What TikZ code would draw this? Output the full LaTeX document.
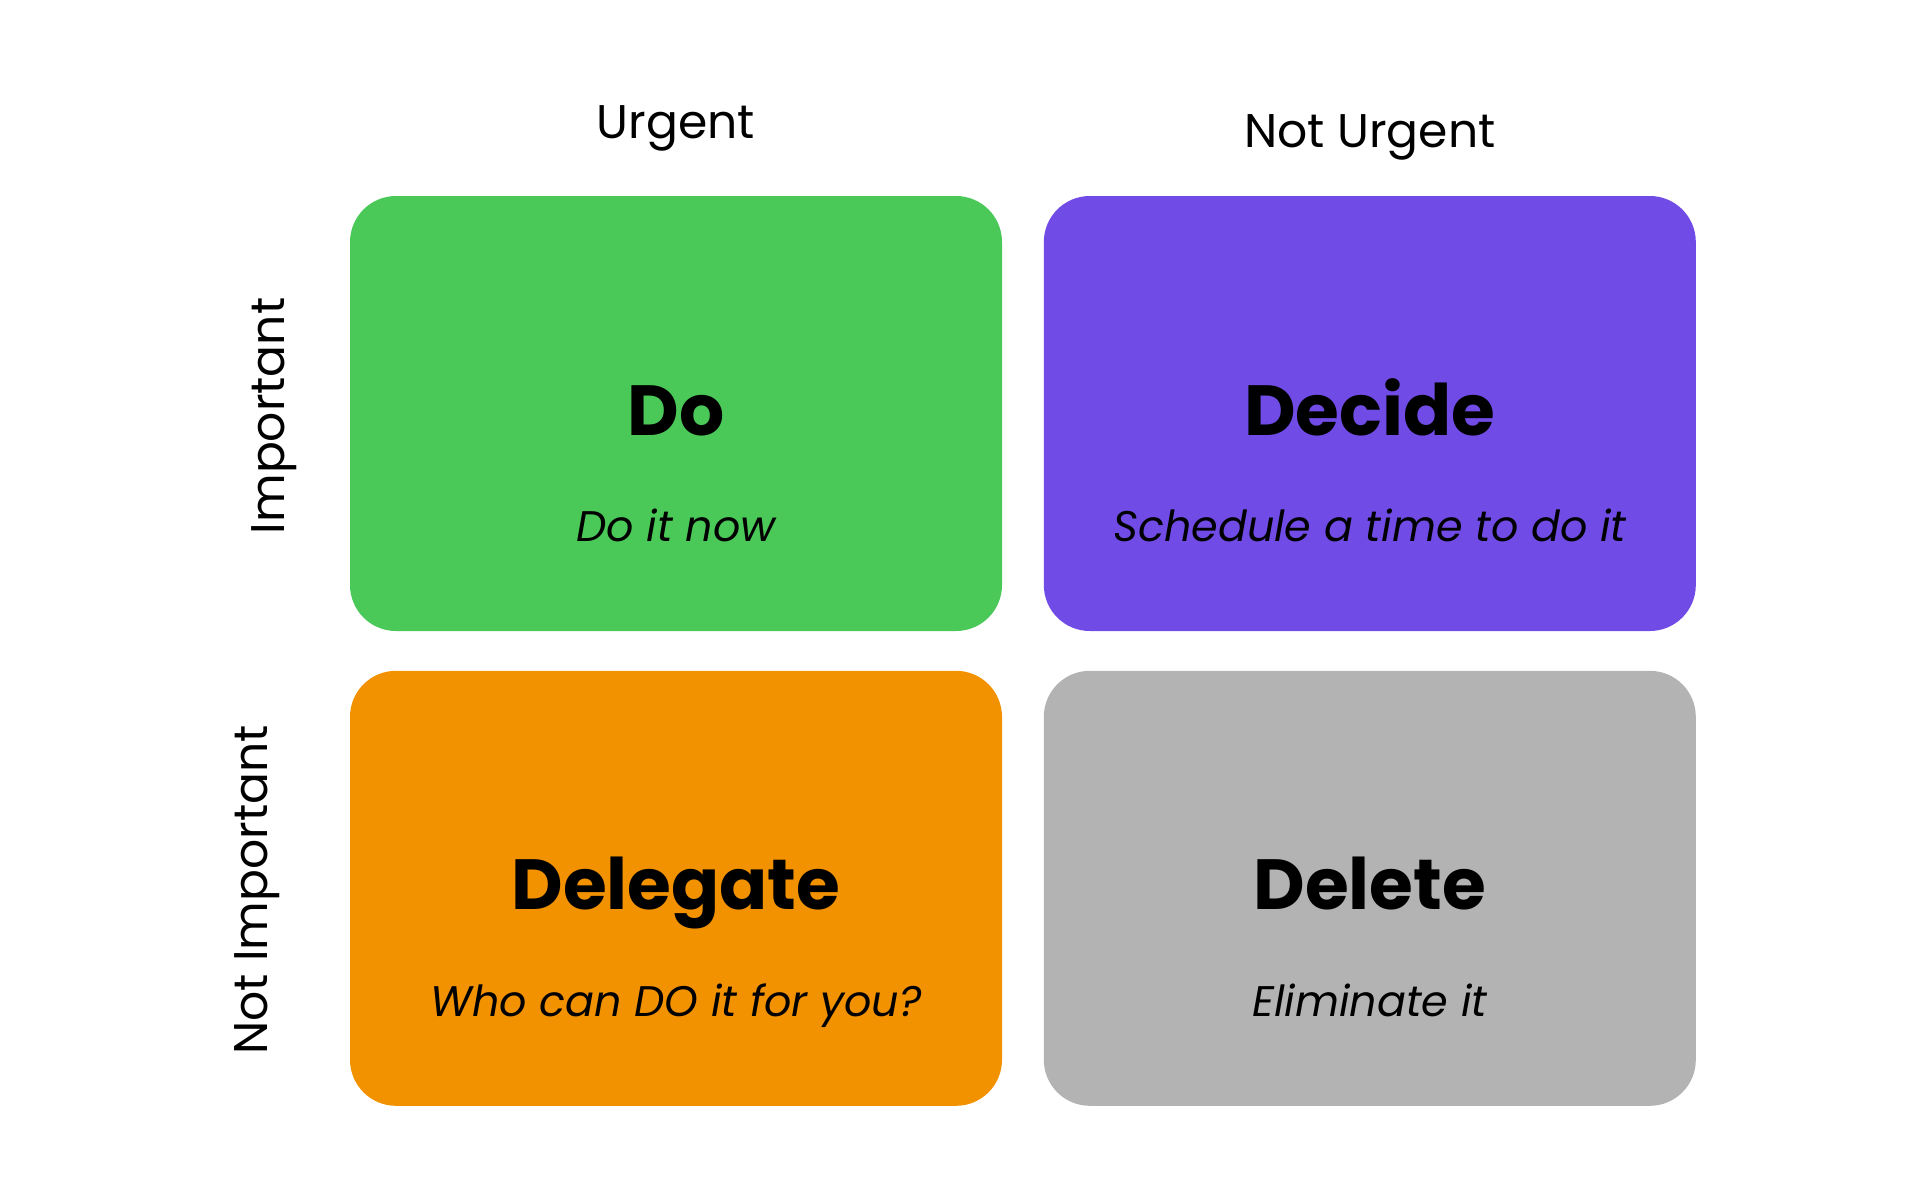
\documentclass[tikz,border=0pt]{standalone}
\usepackage{fontspec}
\setmainfont{Poppins}
\usetikzlibrary{positioning}
\definecolor{dogreen}{HTML}{4BC958}
\definecolor{decidepurple}{HTML}{704BE5}
\definecolor{delegateorange}{HTML}{F29200}
\definecolor{deletegray}{HTML}{B3B3B3}
\begin{document}
\begin{tikzpicture}[
  x=0.5pt,y=-0.5pt,
  quad/.style={rounded corners=23pt,minimum width=326pt,minimum height=217.5pt,inner sep=0pt},
  title/.style={anchor=base,font=\fontsize{35.5}{42}\selectfont\bfseries},
  sub/.style={anchor=base,font=\fontsize{21.4}{26}\selectfont\itshape},
  axis/.style={anchor=base,font=\fontsize{23.6}{28}\selectfont},
  node distance=20pt
]
\useasboundingbox (0,0) rectangle (1920,1200);

% quadrants
\node[quad,fill=dogreen] (do) at (676,413.5) {};
\node[quad,fill=decidepurple,right=20.5pt of do] (decide) {};
\node[quad,fill=delegateorange,below=19.5pt of do] (delegate) {};
\node[quad,fill=deletegray,right=20.5pt of delegate] (delete) {};

% titles and subtitles
\node[title] (dot) at ([yshift=-10.75pt]do.center) {Do};
\node[sub] (dos) at ([yshift=-64pt]do.center) {Do it now};
\node[title] (decidet) at ([yshift=-10.75pt]decide.center) {Decide};
\node[sub] (decides) at ([yshift=-64pt]decide.center) {Schedule a time to do it};
\node[title] (delegatet) at ([yshift=-10.75pt]delegate.center) {Delegate};
\node[sub] (delegates) at ([yshift=-64pt]delegate.center) {Who can DO it for you?};
\node[title] (deletet) at ([yshift=-10.75pt]delete.center) {Delete};
\node[sub] (deletes) at ([yshift=-64pt]delete.center) {Eliminate it};

% axis labels
\node[axis] (urgent) at (do.north |- 0,138) {Urgent};
\node[axis] (noturgent) at (decide.north |- 0,147) {Not Urgent};
\node[axis,rotate=90] (important) at (284,416) {Important};
\node[axis,rotate=90] (notimportant) at (267,890) {Not Important};
\end{tikzpicture}
\end{document}
